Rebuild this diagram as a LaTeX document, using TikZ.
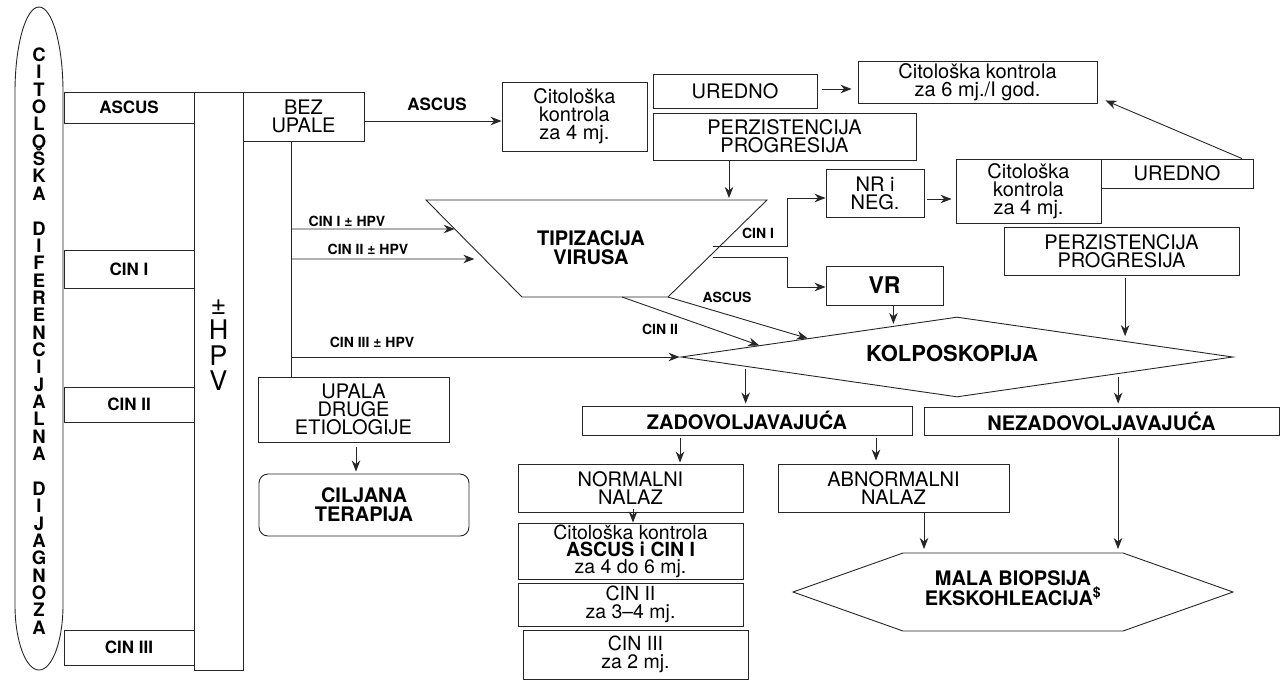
\documentclass[tikz,border=0pt]{standalone}
\usepackage{fontspec}
\setmainfont{TeX Gyre Heros}
\usetikzlibrary{arrows.meta,calc,shapes.geometric}

\tikzset{
  box/.style={draw=black!85, line width=0.9pt, inner sep=0pt, align=center, font=\fontsize{20}{18}\selectfont},
  bbox/.style={box, font=\bfseries\fontsize{20}{19}\selectfont},
  cell/.style={box, minimum width=130pt, font=\bfseries\fontsize{17}{18}\selectfont},
  lab/.style={inner sep=0pt, font=\bfseries\fontsize{14}{15}\selectfont},
  ln/.style={draw=black!85, line width=0.9pt},
  arr/.style={ln, -{Stealth[length=11pt,width=8.5pt,inset=3.5pt]}}
}

\begin{document}
\begin{tikzpicture}[x=1pt,y=-1pt]
\useasboundingbox (0,0) rectangle (1282,681);

\draw[ln] (15,92) -- (15,605) arc[start angle=180, end angle=360, x radius=24pt, y radius=65pt]
  -- (63,92) arc[start angle=0, end angle=180, x radius=24pt, y radius=85pt] -- cycle;
\node[inner sep=0pt, align=center, font=\bfseries\fontsize{18.5}{17.36}\selectfont] (citodg) at (39,341)
  {C\\I\\T\\O\\L\\O\\Š\\K\\A\\~\\D\\I\\F\\E\\R\\E\\N\\C\\I\\J\\A\\L\\N\\A\\~\\D\\I\\J\\A\\G\\N\\O\\Z\\A};

\node[cell, minimum height=31pt] (ascus) at (129,107.5) {ASCUS};
\node[cell, minimum height=38pt] (cin1) at (129,269) {CIN I};
\node[cell, minimum height=35pt] (cin2) at (129,404.5) {CIN II};
\node[cell, minimum height=35pt] (cin3) at (129,647.5) {CIN III};

\node[box, minimum width=49pt, minimum height=578pt] (hpv) at (218.5,381) {};
\node[inner sep=0pt, align=center, font=\fontsize{27}{25.5}\selectfont] (hpvt) at (218.5,345) {±\\H\\P\\V};

\node[box, minimum width=121pt, minimum height=49pt] (bez) at (303.5,116.5) {BEZ\\UPALE};
\node[box, minimum width=145pt, minimum height=69pt] (cit4a) at (574.5,116.5) {Citološka\\kontrola\\za 4 mj.};
\node[box, minimum width=164pt, minimum height=34pt] (ured1) at (735,91) {UREDNO};
\node[box, minimum width=239pt, minimum height=42pt] (cit6) at (977.5,82) {Citološka kontrola\\za 6 mj./I god.};
\node[box, minimum width=263pt, minimum height=47pt] (perz1) at (784.5,136.5) {PERZISTENCIJA\\PROGRESIJA};
\node[box, minimum width=98pt, minimum height=48pt] (nrneg) at (875,193) {NR i\\NEG.};
\node[box, minimum width=145pt, minimum height=64pt] (cit4b) at (1028.5,191) {Citološka\\kontrola\\za 4 mj.};
\node[box, minimum width=152pt, minimum height=29pt] (ured2) at (1177,173.5) {UREDNO};
\node[box, minimum width=235pt, minimum height=48pt] (perz2) at (1121.5,251) {PERZISTENCIJA\\PROGRESIJA};
\node[bbox, minimum width=117pt, minimum height=39pt, font=\bfseries\fontsize{23}{23}\selectfont] (vr) at (884.5,285.5) {VR};

\coordinate (tA) at (426,200);
\coordinate (tB) at (767,200);
\coordinate (tC) at (668,297);
\coordinate (tD) at (522,297);
\draw[ln] (tA) -- (tB) -- (tC) -- (tD) -- cycle;
\node[inner sep=0pt, align=center, font=\bfseries\fontsize{20}{19}\selectfont] (tip) at (591,248) {TIPIZACIJA\\VIRUSA};

\node[diamond, ln, minimum width=552pt, minimum height=80pt, inner sep=0pt] (kol) at (957,357) {};
\node[inner sep=0pt, font=\bfseries\fontsize{22}{22}\selectfont] (kolt) at (952,353) {KOLPOSKOPIJA};

\node[bbox, minimum width=330pt, minimum height=29pt] (zad) at (747,420.5) {ZADOVOLJAVAJUĆA};
\node[bbox, minimum width=355pt, minimum height=28pt] (nez) at (1101.5,421) {NEZADOVOLJAVAJUĆA};
\node[box, minimum width=225pt, minimum height=48pt] (norm) at (630.5,488) {NORMALNI\\NALAZ};
\node[box, minimum width=231pt, minimum height=48pt] (abn) at (893.5,488) {ABNORMALNI\\NALAZ};
\node[box, minimum width=225pt, minimum height=56pt, font=\fontsize{19.5}{17}\selectfont] (kon1) at (630.5,551)
  {Citološka kontrola\\\textbf{ASCUS i CIN I}\\za 4 do 6 mj.};
\node[box, minimum width=225pt, minimum height=43pt, font=\fontsize{19.5}{17.5}\selectfont] (kon2) at (630.5,604.5) {CIN II\\za 3–4 mj.};
\node[box, minimum width=225pt, minimum height=49pt, font=\fontsize{19.5}{17.5}\selectfont] (kon3) at (635.5,654.5) {CIN III\\za 2 mj.};

\coordinate (mW) at (793,592);
\coordinate (mNW) at (903,553);
\coordinate (mNE) at (1123,553);
\coordinate (mE) at (1233,592);
\coordinate (mSE) at (1123,631);
\coordinate (mSW) at (903,631);
\draw[ln] (mW) -- (mNW) -- (mNE) -- (mE) -- (mSE) -- (mSW) -- cycle;
\node[inner sep=0pt, align=center, font=\bfseries\fontsize{20}{17.5}\selectfont] (mala) at (1013,588)
  {MALA BIOPSIJA\\EKSKOHLEACIJA\textsuperscript{\$}};

\node[box, minimum width=191pt, minimum height=65pt] (upala) at (353.5,409.5) {UPALA\\DRUGE\\ETIOLOGIJE};
\node[bbox, rounded corners=9pt, minimum width=210pt, minimum height=62pt] (cilj) at (364,505) {CILJANA\\TERAPIJA};

\node[lab, font=\bfseries\fontsize{17}{18}\selectfont] (lascus) at (437,104) {ASCUS};
\node[lab] (lcin1) at (347,221) {CIN I ± HPV};
\node[lab] (lcin2) at (368,249) {CIN II ± HPV};
\node[lab] (lcin3) at (372,342) {CIN III ± HPV};
\node[lab] (lt1) at (758,233) {CIN I};
\node[lab] (lt2) at (727,297) {ASCUS};
\node[lab] (lt3) at (660,329) {CIN II};

\coordinate (g1) at (291,229);
\coordinate (g2) at (291,259);
\coordinate (g3) at (291,357);
\coordinate (t1) at ($(tA)!0.299!(tD)$);
\coordinate (t2) at ($(tA)!0.608!(tD)$);
\coordinate (t3) at ($(tD)!0.685!(tC)$);
\coordinate (o1) at (713,246);
\coordinate (o2) at (713,257);
\coordinate (kA) at ($(kol.west)!0.46!(kol.north)$);
\coordinate (kB) at ($(kol.west)!0.285!(kol.north)$);
\coordinate (kC) at ($(kol.west)!0.77!(kol.north)$);
\coordinate (kD) at ($(kol.north)!0.608!(kol.east)$);
\coordinate (kE) at ($(kol.west)!0.2355!(kol.south)$);
\coordinate (kF) at ($(kol.south)!0.583!(kol.east)$);
\coordinate (tin) at (729,200);

\draw[arr] ([yshift=-4.5pt]bez.east) -- ([yshift=-4.5pt]bez.east -| cit4a.west);
\draw[arr, shorten <=5pt, shorten >=6pt] ([yshift=2pt]ured1.east) -- ([yshift=2pt]ured1.east -| cit6.west);
\draw[arr, shorten >=2pt] (perz1.south -| tin) -- (tin);
\draw[ln] ([xshift=-12.5pt]bez.south) -- ([xshift=-12.5pt]bez.south |- upala.north);
\draw[arr] (g1) -- (t1);
\draw[arr, shorten >=10pt] (g2) -- (t2);
\draw[arr, shorten >=1pt] (g3) -- (kol.west);
\draw[arr] (o1) -- ++(74,0) |- ([yshift=-5pt]nrneg.west);
\draw[arr] (o2) -- ++(74,0) |- ([yshift=-1.5pt]vr.west);
\draw[arr, shorten <=3pt, shorten >=4pt] ([yshift=-6pt]nrneg.east) -- ([yshift=-6pt]nrneg.east -| cit4b.west);
\draw[arr] ([xshift=65pt]ured2.north) -- ([xshift=8pt,yshift=3pt]cit6.south east);
\draw[arr] (tC) -- (kA);
\draw[arr] (t3) -- (kB);
\draw[arr, shorten >=2pt] (vr.south -| kC) -- (kC);
\draw[arr, shorten <=3pt, shorten >=5pt] (perz2.south -| kD) -- (kD);
\draw[arr, shorten <=2pt, shorten >=2pt] (kE) -- (kE |- zad.north);
\draw[arr, shorten <=3pt, shorten >=3pt] (kF) -- (kF |- nez.north);
\draw[arr, shorten <=3pt, shorten >=1pt] ([xshift=49.5pt]norm.north |- zad.south) -- ([xshift=49.5pt]norm.north);
\draw[arr, shorten <=3pt, shorten >=3pt] ([xshift=-17.5pt]abn.north |- zad.south) -- ([xshift=-17.5pt]abn.north);
\draw[arr] ([xshift=2.5pt,yshift=3pt]norm.south) -- ([xshift=2.5pt]kon1.north);
\draw[arr, shorten >=4pt] ([xshift=30.5pt]abn.south) -- ([xshift=30.5pt]abn.south |- mNW);
\draw[arr, shorten <=3pt, shorten >=4pt] ([xshift=16.5pt]nez.south) -- ([xshift=16.5pt]nez.south |- mNE);
\draw[arr, shorten <=5pt, shorten >=2pt] ([xshift=2.5pt]upala.south) -- ([xshift=2.5pt]upala.south |- cilj.north);
\end{tikzpicture}
\end{document}
